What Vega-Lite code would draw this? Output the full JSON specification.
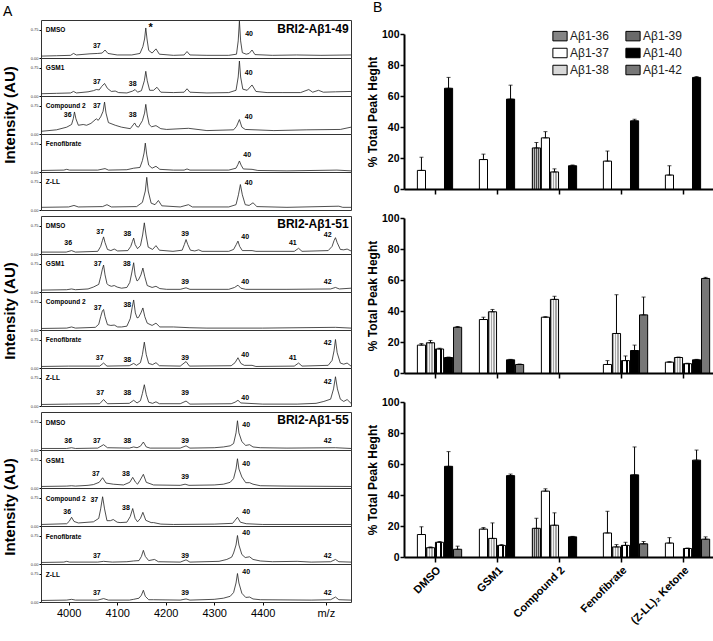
{
  "$schema": "https://vega.github.io/schema/vega-lite/v6.json",
  "padding": {"left": 2, "top": 0, "right": 1, "bottom": 1},
  "spacing": 12,
  "config": {
    "font": "Liberation Sans",
    "view": {"stroke": "#333", "strokeWidth": 1},
    "axis": {"grid": false, "labelColor": "black", "tickColor": "black", "domainColor": "black", "titleColor": "black", "labelOverlap": false},
    "title": {"color": "black"},
    "text": {"color": "black"}
  },
  "datasets": {
    "spec": [
      {"g":"49","c":"DMSO","mz":3943,"f":0.05},{"g":"49","c":"DMSO","mz":3975,"f":0.06},{"g":"49","c":"DMSO","mz":4004,"f":0.07},{"g":"49","c":"DMSO","mz":4010,"f":0.12},{"g":"49","c":"DMSO","mz":4016,"f":0.08},{"g":"49","c":"DMSO","mz":4044,"f":0.11},{"g":"49","c":"DMSO","mz":4060,"f":0.12},{"g":"49","c":"DMSO","mz":4069,"f":0.13},{"g":"49","c":"DMSO","mz":4075,"f":0.21},{"g":"49","c":"DMSO","mz":4081,"f":0.12},{"g":"49","c":"DMSO","mz":4100,"f":0.08},{"g":"49","c":"DMSO","mz":4130,"f":0.08},{"g":"49","c":"DMSO","mz":4147,"f":0.12},{"g":"49","c":"DMSO","mz":4153,"f":0.3},{"g":"49","c":"DMSO","mz":4156.5,"f":0.5},{"g":"49","c":"DMSO","mz":4159,"f":0.79},{"g":"49","c":"DMSO","mz":4161.5,"f":0.5},{"g":"49","c":"DMSO","mz":4165,"f":0.2},{"g":"49","c":"DMSO","mz":4172,"f":0.13},{"g":"49","c":"DMSO","mz":4180,"f":0.24},{"g":"49","c":"DMSO","mz":4187,"f":0.1},{"g":"49","c":"DMSO","mz":4216,"f":0.07},{"g":"49","c":"DMSO","mz":4238,"f":0.08},{"g":"49","c":"DMSO","mz":4244,"f":0.17},{"g":"49","c":"DMSO","mz":4250,"f":0.08},{"g":"49","c":"DMSO","mz":4285,"f":0.07},{"g":"49","c":"DMSO","mz":4330,"f":0.07},{"g":"49","c":"DMSO","mz":4346,"f":0.1},{"g":"49","c":"DMSO","mz":4349.5,"f":0.45},{"g":"49","c":"DMSO","mz":4352,"f":0.97},{"g":"49","c":"DMSO","mz":4354.5,"f":0.45},{"g":"49","c":"DMSO","mz":4358,"f":0.14},{"g":"49","c":"DMSO","mz":4366,"f":0.1},{"g":"49","c":"DMSO","mz":4372,"f":0.12},{"g":"49","c":"DMSO","mz":4378,"f":0.21},{"g":"49","c":"DMSO","mz":4384,"f":0.09},{"g":"49","c":"DMSO","mz":4420,"f":0.07},{"g":"49","c":"DMSO","mz":4470,"f":0.08},{"g":"49","c":"DMSO","mz":4520,"f":0.07},{"g":"49","c":"DMSO","mz":4582,"f":0.08},
      {"g":"49","c":"GSM1","mz":3943,"f":0.06},{"g":"49","c":"GSM1","mz":3975,"f":0.07},{"g":"49","c":"GSM1","mz":4004,"f":0.08},{"g":"49","c":"GSM1","mz":4010,"f":0.12},{"g":"49","c":"GSM1","mz":4016,"f":0.08},{"g":"49","c":"GSM1","mz":4040,"f":0.11},{"g":"49","c":"GSM1","mz":4051,"f":0.14},{"g":"49","c":"GSM1","mz":4057,"f":0.17},{"g":"49","c":"GSM1","mz":4063,"f":0.16},{"g":"49","c":"GSM1","mz":4068,"f":0.25},{"g":"49","c":"GSM1","mz":4074,"f":0.33},{"g":"49","c":"GSM1","mz":4080,"f":0.2},{"g":"49","c":"GSM1","mz":4088,"f":0.12},{"g":"49","c":"GSM1","mz":4096,"f":0.13},{"g":"49","c":"GSM1","mz":4103,"f":0.09},{"g":"49","c":"GSM1","mz":4120,"f":0.08},{"g":"49","c":"GSM1","mz":4132,"f":0.13},{"g":"49","c":"GSM1","mz":4137,"f":0.17},{"g":"49","c":"GSM1","mz":4142,"f":0.1},{"g":"49","c":"GSM1","mz":4150,"f":0.14},{"g":"49","c":"GSM1","mz":4156,"f":0.4},{"g":"49","c":"GSM1","mz":4159,"f":0.65},{"g":"49","c":"GSM1","mz":4162,"f":0.4},{"g":"49","c":"GSM1","mz":4167,"f":0.15},{"g":"49","c":"GSM1","mz":4175,"f":0.15},{"g":"49","c":"GSM1","mz":4182,"f":0.23},{"g":"49","c":"GSM1","mz":4190,"f":0.1},{"g":"49","c":"GSM1","mz":4216,"f":0.09},{"g":"49","c":"GSM1","mz":4238,"f":0.1},{"g":"49","c":"GSM1","mz":4244,"f":0.19},{"g":"49","c":"GSM1","mz":4250,"f":0.1},{"g":"49","c":"GSM1","mz":4285,"f":0.08},{"g":"49","c":"GSM1","mz":4330,"f":0.09},{"g":"49","c":"GSM1","mz":4345,"f":0.15},{"g":"49","c":"GSM1","mz":4349.5,"f":0.5},{"g":"49","c":"GSM1","mz":4352,"f":0.92},{"g":"49","c":"GSM1","mz":4354.5,"f":0.5},{"g":"49","c":"GSM1","mz":4359,"f":0.18},{"g":"49","c":"GSM1","mz":4368,"f":0.15},{"g":"49","c":"GSM1","mz":4378,"f":0.29},{"g":"49","c":"GSM1","mz":4386,"f":0.12},{"g":"49","c":"GSM1","mz":4409,"f":0.09},{"g":"49","c":"GSM1","mz":4440,"f":0.09},{"g":"49","c":"GSM1","mz":4478,"f":0.09},{"g":"49","c":"GSM1","mz":4495,"f":0.17},{"g":"49","c":"GSM1","mz":4503,"f":0.1},{"g":"49","c":"GSM1","mz":4515,"f":0.15},{"g":"49","c":"GSM1","mz":4525,"f":0.1},{"g":"49","c":"GSM1","mz":4550,"f":0.11},{"g":"49","c":"GSM1","mz":4582,"f":0.12},
      {"g":"49","c":"Compound 2","mz":3943,"f":0.07},{"g":"49","c":"Compound 2","mz":3975,"f":0.11},{"g":"49","c":"Compound 2","mz":3996,"f":0.18},{"g":"49","c":"Compound 2","mz":4006,"f":0.25},{"g":"49","c":"Compound 2","mz":4009.5,"f":0.4},{"g":"49","c":"Compound 2","mz":4012,"f":0.58},{"g":"49","c":"Compound 2","mz":4015,"f":0.4},{"g":"49","c":"Compound 2","mz":4020,"f":0.23},{"g":"49","c":"Compound 2","mz":4030,"f":0.25},{"g":"49","c":"Compound 2","mz":4037,"f":0.23},{"g":"49","c":"Compound 2","mz":4046,"f":0.28},{"g":"49","c":"Compound 2","mz":4057,"f":0.4},{"g":"49","c":"Compound 2","mz":4061,"f":0.36},{"g":"49","c":"Compound 2","mz":4066,"f":0.45},{"g":"49","c":"Compound 2","mz":4071,"f":0.6},{"g":"49","c":"Compound 2","mz":4074,"f":0.84},{"g":"49","c":"Compound 2","mz":4077,"f":0.55},{"g":"49","c":"Compound 2","mz":4082,"f":0.3},{"g":"49","c":"Compound 2","mz":4096,"f":0.23},{"g":"49","c":"Compound 2","mz":4109,"f":0.18},{"g":"49","c":"Compound 2","mz":4127,"f":0.14},{"g":"49","c":"Compound 2","mz":4133,"f":0.24},{"g":"49","c":"Compound 2","mz":4136,"f":0.29},{"g":"49","c":"Compound 2","mz":4140,"f":0.2},{"g":"49","c":"Compound 2","mz":4144,"f":0.18},{"g":"49","c":"Compound 2","mz":4152,"f":0.35},{"g":"49","c":"Compound 2","mz":4156.5,"f":0.55},{"g":"49","c":"Compound 2","mz":4159,"f":0.78},{"g":"49","c":"Compound 2","mz":4162,"f":0.5},{"g":"49","c":"Compound 2","mz":4166,"f":0.25},{"g":"49","c":"Compound 2","mz":4171,"f":0.19},{"g":"49","c":"Compound 2","mz":4180,"f":0.22},{"g":"49","c":"Compound 2","mz":4190,"f":0.14},{"g":"49","c":"Compound 2","mz":4202,"f":0.12},{"g":"49","c":"Compound 2","mz":4247,"f":0.15},{"g":"49","c":"Compound 2","mz":4285,"f":0.09},{"g":"49","c":"Compound 2","mz":4340,"f":0.11},{"g":"49","c":"Compound 2","mz":4346,"f":0.2},{"g":"49","c":"Compound 2","mz":4352,"f":0.38},{"g":"49","c":"Compound 2","mz":4357,"f":0.18},{"g":"49","c":"Compound 2","mz":4364,"f":0.12},{"g":"49","c":"Compound 2","mz":4423,"f":0.09},{"g":"49","c":"Compound 2","mz":4491,"f":0.11},{"g":"49","c":"Compound 2","mz":4560,"f":0.12},{"g":"49","c":"Compound 2","mz":4582,"f":0.18},
      {"g":"49","c":"Fenofibrate","mz":3943,"f":0.04},{"g":"49","c":"Fenofibrate","mz":3990,"f":0.05},{"g":"49","c":"Fenofibrate","mz":3996,"f":0.07},{"g":"49","c":"Fenofibrate","mz":4002,"f":0.05},{"g":"49","c":"Fenofibrate","mz":4060,"f":0.05},{"g":"49","c":"Fenofibrate","mz":4075,"f":0.09},{"g":"49","c":"Fenofibrate","mz":4082,"f":0.05},{"g":"49","c":"Fenofibrate","mz":4120,"f":0.06},{"g":"49","c":"Fenofibrate","mz":4134,"f":0.1},{"g":"49","c":"Fenofibrate","mz":4147,"f":0.12},{"g":"49","c":"Fenofibrate","mz":4152,"f":0.3},{"g":"49","c":"Fenofibrate","mz":4155.5,"f":0.5},{"g":"49","c":"Fenofibrate","mz":4158,"f":0.76},{"g":"49","c":"Fenofibrate","mz":4161,"f":0.45},{"g":"49","c":"Fenofibrate","mz":4165,"f":0.18},{"g":"49","c":"Fenofibrate","mz":4172,"f":0.1},{"g":"49","c":"Fenofibrate","mz":4180,"f":0.15},{"g":"49","c":"Fenofibrate","mz":4188,"f":0.07},{"g":"49","c":"Fenofibrate","mz":4216,"f":0.05},{"g":"49","c":"Fenofibrate","mz":4238,"f":0.05},{"g":"49","c":"Fenofibrate","mz":4244,"f":0.08},{"g":"49","c":"Fenofibrate","mz":4250,"f":0.05},{"g":"49","c":"Fenofibrate","mz":4330,"f":0.05},{"g":"49","c":"Fenofibrate","mz":4345,"f":0.1},{"g":"49","c":"Fenofibrate","mz":4349,"f":0.2},{"g":"49","c":"Fenofibrate","mz":4352,"f":0.29},{"g":"49","c":"Fenofibrate","mz":4355.5,"f":0.18},{"g":"49","c":"Fenofibrate","mz":4360,"f":0.08},{"g":"49","c":"Fenofibrate","mz":4378,"f":0.07},{"g":"49","c":"Fenofibrate","mz":4390,"f":0.04},{"g":"49","c":"Fenofibrate","mz":4450,"f":0.03},{"g":"49","c":"Fenofibrate","mz":4553,"f":0.05},{"g":"49","c":"Fenofibrate","mz":4582,"f":0.03},
      {"g":"49","c":"Z-LL","mz":3943,"f":0.07},{"g":"49","c":"Z-LL","mz":4000,"f":0.08},{"g":"49","c":"Z-LL","mz":4011,"f":0.12},{"g":"49","c":"Z-LL","mz":4020,"f":0.08},{"g":"49","c":"Z-LL","mz":4070,"f":0.09},{"g":"49","c":"Z-LL","mz":4079,"f":0.14},{"g":"49","c":"Z-LL","mz":4088,"f":0.08},{"g":"49","c":"Z-LL","mz":4140,"f":0.09},{"g":"49","c":"Z-LL","mz":4152,"f":0.2},{"g":"49","c":"Z-LL","mz":4158,"f":0.5},{"g":"49","c":"Z-LL","mz":4161,"f":0.86},{"g":"49","c":"Z-LL","mz":4164,"f":0.5},{"g":"49","c":"Z-LL","mz":4170,"f":0.18},{"g":"49","c":"Z-LL","mz":4178,"f":0.14},{"g":"49","c":"Z-LL","mz":4185,"f":0.25},{"g":"49","c":"Z-LL","mz":4192,"f":0.11},{"g":"49","c":"Z-LL","mz":4230,"f":0.08},{"g":"49","c":"Z-LL","mz":4247,"f":0.14},{"g":"49","c":"Z-LL","mz":4255,"f":0.08},{"g":"49","c":"Z-LL","mz":4330,"f":0.08},{"g":"49","c":"Z-LL","mz":4345,"f":0.14},{"g":"49","c":"Z-LL","mz":4350,"f":0.4},{"g":"49","c":"Z-LL","mz":4354,"f":0.67},{"g":"49","c":"Z-LL","mz":4358,"f":0.4},{"g":"49","c":"Z-LL","mz":4364,"f":0.14},{"g":"49","c":"Z-LL","mz":4372,"f":0.12},{"g":"49","c":"Z-LL","mz":4380,"f":0.19},{"g":"49","c":"Z-LL","mz":4388,"f":0.09},{"g":"49","c":"Z-LL","mz":4450,"f":0.07},{"g":"49","c":"Z-LL","mz":4557,"f":0.1},{"g":"49","c":"Z-LL","mz":4565,"f":0.07},{"g":"49","c":"Z-LL","mz":4582,"f":0.07},
      {"g":"49","c":"DMSO","mz":4058,"f":0.31,"t":"37"},{"g":"49","c":"DMSO","mz":4169,"f":0.8,"t":"*"},{"g":"49","c":"DMSO","mz":4372,"f":0.64,"t":"40"},
      {"g":"49","c":"GSM1","mz":4058,"f":0.37,"t":"37"},{"g":"49","c":"GSM1","mz":4132,"f":0.31,"t":"38"},{"g":"49","c":"GSM1","mz":4371,"f":0.61,"t":"40"},
      {"g":"49","c":"Compound 2","mz":3998,"f":0.51,"t":"36"},{"g":"49","c":"Compound 2","mz":4058,"f":0.73,"t":"37"},{"g":"49","c":"Compound 2","mz":4132,"f":0.51,"t":"38"},{"g":"49","c":"Compound 2","mz":4371,"f":0.44,"t":"40"},
      {"g":"49","c":"Fenofibrate","mz":4368,"f":0.44,"t":"40"},
      {"g":"49","c":"Z-LL","mz":4371,"f":0.71,"t":"40"},

      {"g":"51","c":"DMSO","mz":3943,"f":0.05},{"g":"51","c":"DMSO","mz":3995,"f":0.05},{"g":"51","c":"DMSO","mz":4006,"f":0.09},{"g":"51","c":"DMSO","mz":4014,"f":0.05},{"g":"51","c":"DMSO","mz":4060,"f":0.07},{"g":"51","c":"DMSO","mz":4066,"f":0.2},{"g":"51","c":"DMSO","mz":4069.5,"f":0.35},{"g":"51","c":"DMSO","mz":4072,"f":0.45},{"g":"51","c":"DMSO","mz":4075,"f":0.3},{"g":"51","c":"DMSO","mz":4080,"f":0.12},{"g":"51","c":"DMSO","mz":4087,"f":0.09},{"g":"51","c":"DMSO","mz":4094,"f":0.13},{"g":"51","c":"DMSO","mz":4101,"f":0.08},{"g":"51","c":"DMSO","mz":4122,"f":0.09},{"g":"51","c":"DMSO","mz":4128,"f":0.2},{"g":"51","c":"DMSO","mz":4131.5,"f":0.33},{"g":"51","c":"DMSO","mz":4134,"f":0.42},{"g":"51","c":"DMSO","mz":4137,"f":0.25},{"g":"51","c":"DMSO","mz":4142,"f":0.14},{"g":"51","c":"DMSO","mz":4148,"f":0.22},{"g":"51","c":"DMSO","mz":4152.5,"f":0.5},{"g":"51","c":"DMSO","mz":4156,"f":0.82},{"g":"51","c":"DMSO","mz":4159.5,"f":0.5},{"g":"51","c":"DMSO","mz":4164,"f":0.18},{"g":"51","c":"DMSO","mz":4173,"f":0.12},{"g":"51","c":"DMSO","mz":4180,"f":0.22},{"g":"51","c":"DMSO","mz":4187,"f":0.1},{"g":"51","c":"DMSO","mz":4215,"f":0.07},{"g":"51","c":"DMSO","mz":4234,"f":0.1},{"g":"51","c":"DMSO","mz":4238.5,"f":0.25},{"g":"51","c":"DMSO","mz":4242,"f":0.38},{"g":"51","c":"DMSO","mz":4245.5,"f":0.25},{"g":"51","c":"DMSO","mz":4251,"f":0.1},{"g":"51","c":"DMSO","mz":4260,"f":0.08},{"g":"51","c":"DMSO","mz":4268,"f":0.11},{"g":"51","c":"DMSO","mz":4275,"f":0.07},{"g":"51","c":"DMSO","mz":4330,"f":0.07},{"g":"51","c":"DMSO","mz":4340,"f":0.12},{"g":"51","c":"DMSO","mz":4345.5,"f":0.25},{"g":"51","c":"DMSO","mz":4349,"f":0.34},{"g":"51","c":"DMSO","mz":4352.5,"f":0.2},{"g":"51","c":"DMSO","mz":4358,"f":0.09},{"g":"51","c":"DMSO","mz":4378,"f":0.09},{"g":"51","c":"DMSO","mz":4386,"f":0.07},{"g":"51","c":"DMSO","mz":4465,"f":0.07},{"g":"51","c":"DMSO","mz":4474,"f":0.15},{"g":"51","c":"DMSO","mz":4481,"f":0.07},{"g":"51","c":"DMSO","mz":4535,"f":0.09},{"g":"51","c":"DMSO","mz":4543,"f":0.2},{"g":"51","c":"DMSO","mz":4547,"f":0.35},{"g":"51","c":"DMSO","mz":4550,"f":0.43},{"g":"51","c":"DMSO","mz":4553.5,"f":0.3},{"g":"51","c":"DMSO","mz":4560,"f":0.12},{"g":"51","c":"DMSO","mz":4567,"f":0.11},{"g":"51","c":"DMSO","mz":4574,"f":0.13},{"g":"51","c":"DMSO","mz":4582,"f":0.08},
      {"g":"51","c":"GSM1","mz":3943,"f":0.05},{"g":"51","c":"GSM1","mz":3996,"f":0.06},{"g":"51","c":"GSM1","mz":4006,"f":0.08},{"g":"51","c":"GSM1","mz":4014,"f":0.06},{"g":"51","c":"GSM1","mz":4040,"f":0.08},{"g":"51","c":"GSM1","mz":4051,"f":0.13},{"g":"51","c":"GSM1","mz":4062,"f":0.2},{"g":"51","c":"GSM1","mz":4066,"f":0.4},{"g":"51","c":"GSM1","mz":4069.5,"f":0.6},{"g":"51","c":"GSM1","mz":4072,"f":0.71},{"g":"51","c":"GSM1","mz":4075,"f":0.45},{"g":"51","c":"GSM1","mz":4079,"f":0.22},{"g":"51","c":"GSM1","mz":4082,"f":0.18},{"g":"51","c":"GSM1","mz":4088,"f":0.15},{"g":"51","c":"GSM1","mz":4094,"f":0.17},{"g":"51","c":"GSM1","mz":4100,"f":0.13},{"g":"51","c":"GSM1","mz":4109,"f":0.1},{"g":"51","c":"GSM1","mz":4120,"f":0.12},{"g":"51","c":"GSM1","mz":4126,"f":0.25},{"g":"51","c":"GSM1","mz":4130,"f":0.5},{"g":"51","c":"GSM1","mz":4134,"f":0.77},{"g":"51","c":"GSM1","mz":4137,"f":0.45},{"g":"51","c":"GSM1","mz":4141,"f":0.29},{"g":"51","c":"GSM1","mz":4144,"f":0.32},{"g":"51","c":"GSM1","mz":4149,"f":0.45},{"g":"51","c":"GSM1","mz":4153,"f":0.63},{"g":"51","c":"GSM1","mz":4157,"f":0.4},{"g":"51","c":"GSM1","mz":4162,"f":0.17},{"g":"51","c":"GSM1","mz":4172,"f":0.12},{"g":"51","c":"GSM1","mz":4180,"f":0.15},{"g":"51","c":"GSM1","mz":4188,"f":0.09},{"g":"51","c":"GSM1","mz":4202,"f":0.07},{"g":"51","c":"GSM1","mz":4230,"f":0.07},{"g":"51","c":"GSM1","mz":4242,"f":0.11},{"g":"51","c":"GSM1","mz":4250,"f":0.07},{"g":"51","c":"GSM1","mz":4330,"f":0.07},{"g":"51","c":"GSM1","mz":4342,"f":0.12},{"g":"51","c":"GSM1","mz":4349,"f":0.18},{"g":"51","c":"GSM1","mz":4355,"f":0.1},{"g":"51","c":"GSM1","mz":4365,"f":0.07},{"g":"51","c":"GSM1","mz":4450,"f":0.07},{"g":"51","c":"GSM1","mz":4540,"f":0.08},{"g":"51","c":"GSM1","mz":4550,"f":0.12},{"g":"51","c":"GSM1","mz":4558,"f":0.08},{"g":"51","c":"GSM1","mz":4582,"f":0.1},
      {"g":"51","c":"Compound 2","mz":3943,"f":0.04},{"g":"51","c":"Compound 2","mz":3996,"f":0.05},{"g":"51","c":"Compound 2","mz":4006,"f":0.08},{"g":"51","c":"Compound 2","mz":4014,"f":0.05},{"g":"51","c":"Compound 2","mz":4055,"f":0.07},{"g":"51","c":"Compound 2","mz":4062,"f":0.15},{"g":"51","c":"Compound 2","mz":4066,"f":0.35},{"g":"51","c":"Compound 2","mz":4069.5,"f":0.5},{"g":"51","c":"Compound 2","mz":4072,"f":0.54},{"g":"51","c":"Compound 2","mz":4075,"f":0.35},{"g":"51","c":"Compound 2","mz":4080,"f":0.14},{"g":"51","c":"Compound 2","mz":4087,"f":0.12},{"g":"51","c":"Compound 2","mz":4094,"f":0.13},{"g":"51","c":"Compound 2","mz":4101,"f":0.08},{"g":"51","c":"Compound 2","mz":4109,"f":0.08},{"g":"51","c":"Compound 2","mz":4120,"f":0.1},{"g":"51","c":"Compound 2","mz":4127,"f":0.3},{"g":"51","c":"Compound 2","mz":4131,"f":0.6},{"g":"51","c":"Compound 2","mz":4134,"f":0.79},{"g":"51","c":"Compound 2","mz":4137.5,"f":0.45},{"g":"51","c":"Compound 2","mz":4141,"f":0.32},{"g":"51","c":"Compound 2","mz":4144,"f":0.33},{"g":"51","c":"Compound 2","mz":4149,"f":0.45},{"g":"51","c":"Compound 2","mz":4153,"f":0.58},{"g":"51","c":"Compound 2","mz":4157,"f":0.35},{"g":"51","c":"Compound 2","mz":4162,"f":0.18},{"g":"51","c":"Compound 2","mz":4172,"f":0.12},{"g":"51","c":"Compound 2","mz":4180,"f":0.18},{"g":"51","c":"Compound 2","mz":4188,"f":0.08},{"g":"51","c":"Compound 2","mz":4216,"f":0.08},{"g":"51","c":"Compound 2","mz":4250,"f":0.06},{"g":"51","c":"Compound 2","mz":4285,"f":0.05},{"g":"51","c":"Compound 2","mz":4400,"f":0.05},{"g":"51","c":"Compound 2","mz":4550,"f":0.07},{"g":"51","c":"Compound 2","mz":4582,"f":0.05},
      {"g":"51","c":"Fenofibrate","mz":3943,"f":0.04},{"g":"51","c":"Fenofibrate","mz":4000,"f":0.05},{"g":"51","c":"Fenofibrate","mz":4064,"f":0.05},{"g":"51","c":"Fenofibrate","mz":4072,"f":0.13},{"g":"51","c":"Fenofibrate","mz":4079,"f":0.05},{"g":"51","c":"Fenofibrate","mz":4125,"f":0.06},{"g":"51","c":"Fenofibrate","mz":4134,"f":0.12},{"g":"51","c":"Fenofibrate","mz":4140,"f":0.07},{"g":"51","c":"Fenofibrate","mz":4148,"f":0.14},{"g":"51","c":"Fenofibrate","mz":4152,"f":0.35},{"g":"51","c":"Fenofibrate","mz":4156,"f":0.68},{"g":"51","c":"Fenofibrate","mz":4160,"f":0.35},{"g":"51","c":"Fenofibrate","mz":4165,"f":0.12},{"g":"51","c":"Fenofibrate","mz":4173,"f":0.09},{"g":"51","c":"Fenofibrate","mz":4180,"f":0.14},{"g":"51","c":"Fenofibrate","mz":4187,"f":0.06},{"g":"51","c":"Fenofibrate","mz":4230,"f":0.05},{"g":"51","c":"Fenofibrate","mz":4242,"f":0.17},{"g":"51","c":"Fenofibrate","mz":4249,"f":0.05},{"g":"51","c":"Fenofibrate","mz":4335,"f":0.06},{"g":"51","c":"Fenofibrate","mz":4343,"f":0.14},{"g":"51","c":"Fenofibrate","mz":4349,"f":0.27},{"g":"51","c":"Fenofibrate","mz":4355,"f":0.12},{"g":"51","c":"Fenofibrate","mz":4362,"f":0.07},{"g":"51","c":"Fenofibrate","mz":4378,"f":0.07},{"g":"51","c":"Fenofibrate","mz":4386,"f":0.04},{"g":"51","c":"Fenofibrate","mz":4465,"f":0.05},{"g":"51","c":"Fenofibrate","mz":4474,"f":0.13},{"g":"51","c":"Fenofibrate","mz":4481,"f":0.05},{"g":"51","c":"Fenofibrate","mz":4535,"f":0.07},{"g":"51","c":"Fenofibrate","mz":4543,"f":0.2},{"g":"51","c":"Fenofibrate","mz":4547,"f":0.45},{"g":"51","c":"Fenofibrate","mz":4550,"f":0.75},{"g":"51","c":"Fenofibrate","mz":4553.5,"f":0.4},{"g":"51","c":"Fenofibrate","mz":4560,"f":0.13},{"g":"51","c":"Fenofibrate","mz":4567,"f":0.1},{"g":"51","c":"Fenofibrate","mz":4574,"f":0.13},{"g":"51","c":"Fenofibrate","mz":4582,"f":0.05},
      {"g":"51","c":"Z-LL","mz":3943,"f":0.04},{"g":"51","c":"Z-LL","mz":4000,"f":0.05},{"g":"51","c":"Z-LL","mz":4064,"f":0.06},{"g":"51","c":"Z-LL","mz":4072,"f":0.17},{"g":"51","c":"Z-LL","mz":4080,"f":0.06},{"g":"51","c":"Z-LL","mz":4125,"f":0.07},{"g":"51","c":"Z-LL","mz":4134,"f":0.15},{"g":"51","c":"Z-LL","mz":4141,"f":0.08},{"g":"51","c":"Z-LL","mz":4148,"f":0.14},{"g":"51","c":"Z-LL","mz":4152,"f":0.33},{"g":"51","c":"Z-LL","mz":4156,"f":0.56},{"g":"51","c":"Z-LL","mz":4160,"f":0.3},{"g":"51","c":"Z-LL","mz":4165,"f":0.1},{"g":"51","c":"Z-LL","mz":4173,"f":0.07},{"g":"51","c":"Z-LL","mz":4180,"f":0.11},{"g":"51","c":"Z-LL","mz":4187,"f":0.06},{"g":"51","c":"Z-LL","mz":4230,"f":0.06},{"g":"51","c":"Z-LL","mz":4242,"f":0.13},{"g":"51","c":"Z-LL","mz":4250,"f":0.05},{"g":"51","c":"Z-LL","mz":4335,"f":0.06},{"g":"51","c":"Z-LL","mz":4343,"f":0.1},{"g":"51","c":"Z-LL","mz":4349,"f":0.15},{"g":"51","c":"Z-LL","mz":4355,"f":0.08},{"g":"51","c":"Z-LL","mz":4400,"f":0.05},{"g":"51","c":"Z-LL","mz":4471,"f":0.05},{"g":"51","c":"Z-LL","mz":4510,"f":0.07},{"g":"51","c":"Z-LL","mz":4526,"f":0.12},{"g":"51","c":"Z-LL","mz":4540,"f":0.18},{"g":"51","c":"Z-LL","mz":4546,"f":0.45},{"g":"51","c":"Z-LL","mz":4550,"f":0.77},{"g":"51","c":"Z-LL","mz":4554,"f":0.45},{"g":"51","c":"Z-LL","mz":4560,"f":0.18},{"g":"51","c":"Z-LL","mz":4567,"f":0.12},{"g":"51","c":"Z-LL","mz":4574,"f":0.17},{"g":"51","c":"Z-LL","mz":4582,"f":0.07},
      {"g":"51","c":"DMSO","mz":3999,"f":0.29,"t":"36"},{"g":"51","c":"DMSO","mz":4065,"f":0.58,"t":"37"},{"g":"51","c":"DMSO","mz":4121,"f":0.52,"t":"38"},{"g":"51","c":"DMSO","mz":4240,"f":0.52,"t":"39"},{"g":"51","c":"DMSO","mz":4364,"f":0.45,"t":"40"},{"g":"51","c":"DMSO","mz":4462,"f":0.29,"t":"41"},{"g":"51","c":"DMSO","mz":4534,"f":0.49,"t":"42"},
      {"g":"51","c":"GSM1","mz":4060,"f":0.73,"t":"37"},{"g":"51","c":"GSM1","mz":4120,"f":0.73,"t":"38"},{"g":"51","c":"GSM1","mz":4240,"f":0.27,"t":"39"},{"g":"51","c":"GSM1","mz":4364,"f":0.27,"t":"40"},{"g":"51","c":"GSM1","mz":4534,"f":0.27,"t":"42"},
      {"g":"51","c":"Compound 2","mz":4060,"f":0.58,"t":"37"},{"g":"51","c":"Compound 2","mz":4121,"f":0.65,"t":"38"},
      {"g":"51","c":"Fenofibrate","mz":4064,"f":0.27,"t":"37"},{"g":"51","c":"Fenofibrate","mz":4121,"f":0.21,"t":"38"},{"g":"51","c":"Fenofibrate","mz":4240,"f":0.27,"t":"39"},{"g":"51","c":"Fenofibrate","mz":4364,"f":0.33,"t":"40"},{"g":"51","c":"Fenofibrate","mz":4462,"f":0.27,"t":"41"},{"g":"51","c":"Fenofibrate","mz":4534,"f":0.67,"t":"42"},
      {"g":"51","c":"Z-LL","mz":4065,"f":0.33,"t":"37"},{"g":"51","c":"Z-LL","mz":4121,"f":0.33,"t":"38"},{"g":"51","c":"Z-LL","mz":4240,"f":0.33,"t":"39"},{"g":"51","c":"Z-LL","mz":4364,"f":0.21,"t":"40"},{"g":"51","c":"Z-LL","mz":4534,"f":0.63,"t":"42"},

      {"g":"55","c":"DMSO","mz":3943,"f":0.04},{"g":"55","c":"DMSO","mz":3996,"f":0.04},{"g":"55","c":"DMSO","mz":4006,"f":0.06},{"g":"55","c":"DMSO","mz":4014,"f":0.04},{"g":"55","c":"DMSO","mz":4060,"f":0.05},{"g":"55","c":"DMSO","mz":4072,"f":0.14},{"g":"55","c":"DMSO","mz":4080,"f":0.06},{"g":"55","c":"DMSO","mz":4125,"f":0.05},{"g":"55","c":"DMSO","mz":4134,"f":0.08},{"g":"55","c":"DMSO","mz":4141,"f":0.06},{"g":"55","c":"DMSO","mz":4148,"f":0.1},{"g":"55","c":"DMSO","mz":4154,"f":0.21},{"g":"55","c":"DMSO","mz":4160,"f":0.08},{"g":"55","c":"DMSO","mz":4168,"f":0.05},{"g":"55","c":"DMSO","mz":4230,"f":0.05},{"g":"55","c":"DMSO","mz":4242,"f":0.11},{"g":"55","c":"DMSO","mz":4250,"f":0.05},{"g":"55","c":"DMSO","mz":4300,"f":0.06},{"g":"55","c":"DMSO","mz":4319,"f":0.08},{"g":"55","c":"DMSO","mz":4333,"f":0.11},{"g":"55","c":"DMSO","mz":4340,"f":0.17},{"g":"55","c":"DMSO","mz":4345,"f":0.45},{"g":"55","c":"DMSO","mz":4348,"f":0.77},{"g":"55","c":"DMSO","mz":4351,"f":0.45},{"g":"55","c":"DMSO","mz":4357,"f":0.22},{"g":"55","c":"DMSO","mz":4365,"f":0.12},{"g":"55","c":"DMSO","mz":4373,"f":0.14},{"g":"55","c":"DMSO","mz":4380,"f":0.08},{"g":"55","c":"DMSO","mz":4395,"f":0.06},{"g":"55","c":"DMSO","mz":4450,"f":0.05},{"g":"55","c":"DMSO","mz":4550,"f":0.06},{"g":"55","c":"DMSO","mz":4582,"f":0.04},
      {"g":"55","c":"GSM1","mz":3943,"f":0.04},{"g":"55","c":"GSM1","mz":3996,"f":0.05},{"g":"55","c":"GSM1","mz":4006,"f":0.06},{"g":"55","c":"GSM1","mz":4014,"f":0.05},{"g":"55","c":"GSM1","mz":4040,"f":0.07},{"g":"55","c":"GSM1","mz":4051,"f":0.09},{"g":"55","c":"GSM1","mz":4063,"f":0.15},{"g":"55","c":"GSM1","mz":4070,"f":0.27},{"g":"55","c":"GSM1","mz":4077,"f":0.13},{"g":"55","c":"GSM1","mz":4092,"f":0.1},{"g":"55","c":"GSM1","mz":4113,"f":0.08},{"g":"55","c":"GSM1","mz":4126,"f":0.15},{"g":"55","c":"GSM1","mz":4132,"f":0.28},{"g":"55","c":"GSM1","mz":4138,"f":0.15},{"g":"55","c":"GSM1","mz":4142,"f":0.1},{"g":"55","c":"GSM1","mz":4147,"f":0.2},{"g":"55","c":"GSM1","mz":4154,"f":0.36},{"g":"55","c":"GSM1","mz":4160,"f":0.15},{"g":"55","c":"GSM1","mz":4175,"f":0.08},{"g":"55","c":"GSM1","mz":4230,"f":0.07},{"g":"55","c":"GSM1","mz":4240,"f":0.1},{"g":"55","c":"GSM1","mz":4248,"f":0.07},{"g":"55","c":"GSM1","mz":4300,"f":0.08},{"g":"55","c":"GSM1","mz":4319,"f":0.1},{"g":"55","c":"GSM1","mz":4333,"f":0.15},{"g":"55","c":"GSM1","mz":4340,"f":0.25},{"g":"55","c":"GSM1","mz":4345,"f":0.5},{"g":"55","c":"GSM1","mz":4348,"f":0.77},{"g":"55","c":"GSM1","mz":4351,"f":0.5},{"g":"55","c":"GSM1","mz":4357,"f":0.29},{"g":"55","c":"GSM1","mz":4365,"f":0.14},{"g":"55","c":"GSM1","mz":4373,"f":0.14},{"g":"55","c":"GSM1","mz":4380,"f":0.1},{"g":"55","c":"GSM1","mz":4395,"f":0.06},{"g":"55","c":"GSM1","mz":4450,"f":0.05},{"g":"55","c":"GSM1","mz":4582,"f":0.04},
      {"g":"55","c":"Compound 2","mz":3943,"f":0.04},{"g":"55","c":"Compound 2","mz":3996,"f":0.06},{"g":"55","c":"Compound 2","mz":4001,"f":0.12},{"g":"55","c":"Compound 2","mz":4006,"f":0.23},{"g":"55","c":"Compound 2","mz":4011,"f":0.12},{"g":"55","c":"Compound 2","mz":4020,"f":0.08},{"g":"55","c":"Compound 2","mz":4051,"f":0.11},{"g":"55","c":"Compound 2","mz":4062,"f":0.2},{"g":"55","c":"Compound 2","mz":4066,"f":0.45},{"g":"55","c":"Compound 2","mz":4070,"f":0.77},{"g":"55","c":"Compound 2","mz":4074,"f":0.45},{"g":"55","c":"Compound 2","mz":4079,"f":0.14},{"g":"55","c":"Compound 2","mz":4086,"f":0.14},{"g":"55","c":"Compound 2","mz":4092,"f":0.17},{"g":"55","c":"Compound 2","mz":4100,"f":0.1},{"g":"55","c":"Compound 2","mz":4106,"f":0.09},{"g":"55","c":"Compound 2","mz":4120,"f":0.1},{"g":"55","c":"Compound 2","mz":4127,"f":0.25},{"g":"55","c":"Compound 2","mz":4132,"f":0.46},{"g":"55","c":"Compound 2","mz":4137,"f":0.2},{"g":"55","c":"Compound 2","mz":4142,"f":0.11},{"g":"55","c":"Compound 2","mz":4148,"f":0.2},{"g":"55","c":"Compound 2","mz":4153,"f":0.36},{"g":"55","c":"Compound 2","mz":4159,"f":0.15},{"g":"55","c":"Compound 2","mz":4170,"f":0.09},{"g":"55","c":"Compound 2","mz":4175,"f":0.09},{"g":"55","c":"Compound 2","mz":4190,"f":0.05},{"g":"55","c":"Compound 2","mz":4216,"f":0.04},{"g":"55","c":"Compound 2","mz":4300,"f":0.05},{"g":"55","c":"Compound 2","mz":4338,"f":0.07},{"g":"55","c":"Compound 2","mz":4343,"f":0.15},{"g":"55","c":"Compound 2","mz":4348,"f":0.23},{"g":"55","c":"Compound 2","mz":4354,"f":0.1},{"g":"55","c":"Compound 2","mz":4366,"f":0.06},{"g":"55","c":"Compound 2","mz":4400,"f":0.04},{"g":"55","c":"Compound 2","mz":4582,"f":0.04},
      {"g":"55","c":"Fenofibrate","mz":3943,"f":0.04},{"g":"55","c":"Fenofibrate","mz":3990,"f":0.05},{"g":"55","c":"Fenofibrate","mz":3996,"f":0.07},{"g":"55","c":"Fenofibrate","mz":4002,"f":0.05},{"g":"55","c":"Fenofibrate","mz":4060,"f":0.05},{"g":"55","c":"Fenofibrate","mz":4072,"f":0.07},{"g":"55","c":"Fenofibrate","mz":4090,"f":0.05},{"g":"55","c":"Fenofibrate","mz":4120,"f":0.06},{"g":"55","c":"Fenofibrate","mz":4134,"f":0.08},{"g":"55","c":"Fenofibrate","mz":4145,"f":0.09},{"g":"55","c":"Fenofibrate","mz":4150,"f":0.2},{"g":"55","c":"Fenofibrate","mz":4154,"f":0.36},{"g":"55","c":"Fenofibrate","mz":4158,"f":0.2},{"g":"55","c":"Fenofibrate","mz":4165,"f":0.09},{"g":"55","c":"Fenofibrate","mz":4177,"f":0.12},{"g":"55","c":"Fenofibrate","mz":4185,"f":0.06},{"g":"55","c":"Fenofibrate","mz":4230,"f":0.05},{"g":"55","c":"Fenofibrate","mz":4242,"f":0.11},{"g":"55","c":"Fenofibrate","mz":4250,"f":0.05},{"g":"55","c":"Fenofibrate","mz":4310,"f":0.07},{"g":"55","c":"Fenofibrate","mz":4326,"f":0.12},{"g":"55","c":"Fenofibrate","mz":4336,"f":0.18},{"g":"55","c":"Fenofibrate","mz":4340,"f":0.29},{"g":"55","c":"Fenofibrate","mz":4345,"f":0.5},{"g":"55","c":"Fenofibrate","mz":4348,"f":0.75},{"g":"55","c":"Fenofibrate","mz":4351,"f":0.5},{"g":"55","c":"Fenofibrate","mz":4357,"f":0.25},{"g":"55","c":"Fenofibrate","mz":4364,"f":0.17},{"g":"55","c":"Fenofibrate","mz":4373,"f":0.19},{"g":"55","c":"Fenofibrate","mz":4380,"f":0.12},{"g":"55","c":"Fenofibrate","mz":4395,"f":0.08},{"g":"55","c":"Fenofibrate","mz":4420,"f":0.06},{"g":"55","c":"Fenofibrate","mz":4471,"f":0.07},{"g":"55","c":"Fenofibrate","mz":4500,"f":0.05},{"g":"55","c":"Fenofibrate","mz":4540,"f":0.06},{"g":"55","c":"Fenofibrate","mz":4550,"f":0.12},{"g":"55","c":"Fenofibrate","mz":4557,"f":0.06},{"g":"55","c":"Fenofibrate","mz":4582,"f":0.05},
      {"g":"55","c":"Z-LL","mz":3943,"f":0.04},{"g":"55","c":"Z-LL","mz":3996,"f":0.05},{"g":"55","c":"Z-LL","mz":4006,"f":0.07},{"g":"55","c":"Z-LL","mz":4014,"f":0.05},{"g":"55","c":"Z-LL","mz":4060,"f":0.05},{"g":"55","c":"Z-LL","mz":4072,"f":0.09},{"g":"55","c":"Z-LL","mz":4082,"f":0.05},{"g":"55","c":"Z-LL","mz":4125,"f":0.05},{"g":"55","c":"Z-LL","mz":4134,"f":0.07},{"g":"55","c":"Z-LL","mz":4145,"f":0.1},{"g":"55","c":"Z-LL","mz":4150,"f":0.18},{"g":"55","c":"Z-LL","mz":4154,"f":0.31},{"g":"55","c":"Z-LL","mz":4158,"f":0.15},{"g":"55","c":"Z-LL","mz":4165,"f":0.06},{"g":"55","c":"Z-LL","mz":4175,"f":0.06},{"g":"55","c":"Z-LL","mz":4230,"f":0.05},{"g":"55","c":"Z-LL","mz":4242,"f":0.08},{"g":"55","c":"Z-LL","mz":4250,"f":0.05},{"g":"55","c":"Z-LL","mz":4300,"f":0.07},{"g":"55","c":"Z-LL","mz":4319,"f":0.1},{"g":"55","c":"Z-LL","mz":4333,"f":0.15},{"g":"55","c":"Z-LL","mz":4340,"f":0.25},{"g":"55","c":"Z-LL","mz":4345,"f":0.5},{"g":"55","c":"Z-LL","mz":4348,"f":0.75},{"g":"55","c":"Z-LL","mz":4351,"f":0.5},{"g":"55","c":"Z-LL","mz":4357,"f":0.23},{"g":"55","c":"Z-LL","mz":4365,"f":0.12},{"g":"55","c":"Z-LL","mz":4373,"f":0.13},{"g":"55","c":"Z-LL","mz":4380,"f":0.08},{"g":"55","c":"Z-LL","mz":4395,"f":0.06},{"g":"55","c":"Z-LL","mz":4500,"f":0.05},{"g":"55","c":"Z-LL","mz":4540,"f":0.06},{"g":"55","c":"Z-LL","mz":4550,"f":0.13},{"g":"55","c":"Z-LL","mz":4557,"f":0.06},{"g":"55","c":"Z-LL","mz":4582,"f":0.05},
      {"g":"55","c":"DMSO","mz":3999,"f":0.25,"t":"36"},{"g":"55","c":"DMSO","mz":4058,"f":0.25,"t":"37"},{"g":"55","c":"DMSO","mz":4121,"f":0.25,"t":"38"},{"g":"55","c":"DMSO","mz":4240,"f":0.25,"t":"39"},{"g":"55","c":"DMSO","mz":4366,"f":0.67,"t":"40"},{"g":"55","c":"DMSO","mz":4534,"f":0.25,"t":"42"},
      {"g":"55","c":"GSM1","mz":4056,"f":0.38,"t":"37"},{"g":"55","c":"GSM1","mz":4118,"f":0.38,"t":"38"},{"g":"55","c":"GSM1","mz":4240,"f":0.29,"t":"39"},{"g":"55","c":"GSM1","mz":4366,"f":0.64,"t":"40"},
      {"g":"55","c":"Compound 2","mz":3997,"f":0.36,"t":"36"},{"g":"55","c":"Compound 2","mz":4053,"f":0.69,"t":"37"},{"g":"55","c":"Compound 2","mz":4118,"f":0.48,"t":"38"},{"g":"55","c":"Compound 2","mz":4366,"f":0.38,"t":"40"},
      {"g":"55","c":"Fenofibrate","mz":4058,"f":0.21,"t":"37"},{"g":"55","c":"Fenofibrate","mz":4240,"f":0.21,"t":"39"},{"g":"55","c":"Fenofibrate","mz":4366,"f":0.81,"t":"40"},{"g":"55","c":"Fenofibrate","mz":4534,"f":0.21,"t":"42"},
      {"g":"55","c":"Z-LL","mz":4058,"f":0.23,"t":"37"},{"g":"55","c":"Z-LL","mz":4240,"f":0.23,"t":"39"},{"g":"55","c":"Z-LL","mz":4366,"f":0.79,"t":"40"},{"g":"55","c":"Z-LL","mz":4534,"f":0.23,"t":"42"}
    ],
    "bars": [
      {"p":"49","t":"DMSO","a":"Aβ1-37","v":12,"hi":20.5},{"p":"49","t":"DMSO","a":"Aβ1-40","v":65,"hi":72},
      {"p":"49","t":"GSM1","a":"Aβ1-37","v":19,"hi":22.5},{"p":"49","t":"GSM1","a":"Aβ1-40","v":58,"hi":67},
      {"p":"49","t":"Compound 2","a":"Aβ1-36","v":26.5,"hi":30},{"p":"49","t":"Compound 2","a":"Aβ1-37","v":33,"hi":37},{"p":"49","t":"Compound 2","a":"Aβ1-38","v":11,"hi":13},{"p":"49","t":"Compound 2","a":"Aβ1-40","v":15,"hi":15.5},
      {"p":"49","t":"Fenofibrate","a":"Aβ1-37","v":18,"hi":24.5},{"p":"49","t":"Fenofibrate","a":"Aβ1-40","v":44,"hi":45},
      {"p":"49","t":"(Z-LL)₂ Ketone","a":"Aβ1-37","v":9,"hi":15},{"p":"49","t":"(Z-LL)₂ Ketone","a":"Aβ1-40","v":72,"hi":72.5},
      {"p":"51","t":"DMSO","a":"Aβ1-37","v":18,"hi":19},{"p":"51","t":"DMSO","a":"Aβ1-38","v":19.5,"hi":21},{"p":"51","t":"DMSO","a":"Aβ1-39","v":15.5,"hi":16},{"p":"51","t":"DMSO","a":"Aβ1-40","v":10,"hi":10.3},{"p":"51","t":"DMSO","a":"Aβ1-42","v":29.5,"hi":30},
      {"p":"51","t":"GSM1","a":"Aβ1-37","v":34.5,"hi":36},{"p":"51","t":"GSM1","a":"Aβ1-38","v":39.5,"hi":41},{"p":"51","t":"GSM1","a":"Aβ1-40","v":8.5,"hi":8.8},{"p":"51","t":"GSM1","a":"Aβ1-42","v":5.5,"hi":5.8},
      {"p":"51","t":"Compound 2","a":"Aβ1-37","v":36,"hi":36.3},{"p":"51","t":"Compound 2","a":"Aβ1-38","v":47.5,"hi":49.5},
      {"p":"51","t":"Fenofibrate","a":"Aβ1-37","v":5.5,"hi":8},{"p":"51","t":"Fenofibrate","a":"Aβ1-38","v":25.5,"hi":50.5},{"p":"51","t":"Fenofibrate","a":"Aβ1-39","v":8,"hi":11},{"p":"51","t":"Fenofibrate","a":"Aβ1-40","v":14.5,"hi":18},{"p":"51","t":"Fenofibrate","a":"Aβ1-42","v":37.5,"hi":49},
      {"p":"51","t":"(Z-LL)₂ Ketone","a":"Aβ1-37","v":7,"hi":7.3},{"p":"51","t":"(Z-LL)₂ Ketone","a":"Aβ1-38","v":10,"hi":10.3},{"p":"51","t":"(Z-LL)₂ Ketone","a":"Aβ1-39","v":6,"hi":6.3},{"p":"51","t":"(Z-LL)₂ Ketone","a":"Aβ1-40","v":8.5,"hi":8.8},{"p":"51","t":"(Z-LL)₂ Ketone","a":"Aβ1-42","v":61,"hi":61.7},
      {"p":"55","t":"DMSO","a":"Aβ1-37","v":14.5,"hi":19.5},{"p":"55","t":"DMSO","a":"Aβ1-38","v":6,"hi":6.5},{"p":"55","t":"DMSO","a":"Aβ1-39","v":9.5,"hi":10},{"p":"55","t":"DMSO","a":"Aβ1-40","v":58.5,"hi":68},{"p":"55","t":"DMSO","a":"Aβ1-42","v":5,"hi":7},
      {"p":"55","t":"GSM1","a":"Aβ1-37","v":18,"hi":19},{"p":"55","t":"GSM1","a":"Aβ1-38","v":12,"hi":22},{"p":"55","t":"GSM1","a":"Aβ1-39","v":7.5,"hi":8},{"p":"55","t":"GSM1","a":"Aβ1-40","v":52.5,"hi":53.5},
      {"p":"55","t":"Compound 2","a":"Aβ1-36","v":18.5,"hi":25},{"p":"55","t":"Compound 2","a":"Aβ1-37","v":42.5,"hi":44},{"p":"55","t":"Compound 2","a":"Aβ1-38","v":20.5,"hi":28.5},{"p":"55","t":"Compound 2","a":"Aβ1-40","v":13,"hi":13.3},
      {"p":"55","t":"Fenofibrate","a":"Aβ1-37","v":15.5,"hi":29.5},{"p":"55","t":"Fenofibrate","a":"Aβ1-38","v":6.5,"hi":8},{"p":"55","t":"Fenofibrate","a":"Aβ1-39","v":7.5,"hi":9.5},{"p":"55","t":"Fenofibrate","a":"Aβ1-40","v":53,"hi":71},{"p":"55","t":"Fenofibrate","a":"Aβ1-42","v":8.5,"hi":10},
      {"p":"55","t":"(Z-LL)₂ Ketone","a":"Aβ1-37","v":9,"hi":12.5},{"p":"55","t":"(Z-LL)₂ Ketone","a":"Aβ1-39","v":5.5,"hi":5.8},{"p":"55","t":"(Z-LL)₂ Ketone","a":"Aβ1-40","v":62.5,"hi":69},{"p":"55","t":"(Z-LL)₂ Ketone","a":"Aβ1-42","v":11.5,"hi":13}
    ]
  },
  "hconcat": [
    {
      "data": {"name": "spec"},
      "spacing": 3,
      "vconcat": [
        {
          "title": {"text": "A", "anchor": "start", "fontSize": 14, "fontWeight": "normal", "offset": 0},
          "transform": [{"filter": "datum.g == '49'"}],
          "bounds": "flush",
          "facet": {"row": {"field": "c", "type": "nominal", "sort": ["DMSO", "GSM1", "Compound 2", "Fenofibrate", "Z-LL"], "title": "Intensity (AU)", "header": {"labels": false, "labelPadding": 0, "titleFontSize": 15, "titleFontWeight": "bold", "titlePadding": 2}}},
          "spacing": 0,
          "spec": {
            "width": 310, "height": 38,
            "layer": [
              {"transform": [{"filter": "!datum.t"}], "mark": {"type": "line", "color": "#222", "strokeWidth": 0.8},
               "encoding": {
                 "x": {"field": "mz", "type": "quantitative", "scale": {"domain": [3943, 4582], "nice": false, "zero": false}, "axis": null},
                 "y": {"field": "f", "type": "quantitative", "scale": {"domain": [0, 1], "nice": false}, "axis": {"values": [0, 0.25, 0.5, 0.75], "format": ".2f", "labelFontSize": 4, "tickSize": 2, "labelPadding": 1, "domain": false, "title": null, "labelColor": "#333"}}}},
              {"transform": [{"filter": "datum.t"}], "mark": {"type": "text", "fontWeight": "bold", "color": "black"},
               "encoding": {"x": {"field": "mz", "type": "quantitative", "title": null}, "y": {"field": "f", "type": "quantitative", "title": null}, "text": {"field": "t"}, "size": {"condition": {"test": "datum.t === '*'", "value": 11}, "value": 7}}},
              {"transform": [{"aggregate": [{"op": "count", "as": "n"}], "groupby": ["c"]}], "mark": {"type": "text", "align": "left", "fontSize": 6.5, "fontWeight": "bold", "color": "black"},
               "encoding": {"x": {"datum": 3953}, "y": {"datum": 0.73}, "text": {"field": "c"}}},
              {"transform": [{"filter": "datum.c == 'DMSO'"}, {"aggregate": [{"op": "count", "as": "n"}], "groupby": ["c"]}], "mark": {"type": "text", "align": "right", "fontSize": 12, "fontWeight": "bold", "color": "black"},
               "encoding": {"x": {"datum": 4577}, "y": {"datum": 0.76}, "text": {"value": "BRI2-Aβ1-49"}}}
            ]
          }
        },
        {
          "transform": [{"filter": "datum.g == '51'"}],
          "bounds": "flush",
          "facet": {"row": {"field": "c", "type": "nominal", "sort": ["DMSO", "GSM1", "Compound 2", "Fenofibrate", "Z-LL"], "title": "Intensity (AU)", "header": {"labels": false, "labelPadding": 0, "titleFontSize": 15, "titleFontWeight": "bold", "titlePadding": 2}}},
          "spacing": 0,
          "spec": {
            "width": 310, "height": 38,
            "layer": [
              {"transform": [{"filter": "!datum.t"}], "mark": {"type": "line", "color": "#222", "strokeWidth": 0.8},
               "encoding": {
                 "x": {"field": "mz", "type": "quantitative", "scale": {"domain": [3943, 4582], "nice": false, "zero": false}, "axis": null},
                 "y": {"field": "f", "type": "quantitative", "scale": {"domain": [0, 1], "nice": false}, "axis": {"values": [0, 0.25, 0.5, 0.75], "format": ".2f", "labelFontSize": 4, "tickSize": 2, "labelPadding": 1, "domain": false, "title": null, "labelColor": "#333"}}}},
              {"transform": [{"filter": "datum.t"}], "mark": {"type": "text", "fontWeight": "bold", "color": "black", "fontSize": 7},
               "encoding": {"x": {"field": "mz", "type": "quantitative", "title": null}, "y": {"field": "f", "type": "quantitative", "title": null}, "text": {"field": "t"}}},
              {"transform": [{"aggregate": [{"op": "count", "as": "n"}], "groupby": ["c"]}], "mark": {"type": "text", "align": "left", "fontSize": 6.5, "fontWeight": "bold", "color": "black"},
               "encoding": {"x": {"datum": 3953}, "y": {"datum": 0.75}, "text": {"field": "c"}}},
              {"transform": [{"filter": "datum.c == 'DMSO'"}, {"aggregate": [{"op": "count", "as": "n"}], "groupby": ["c"]}], "mark": {"type": "text", "align": "right", "fontSize": 12, "fontWeight": "bold", "color": "black"},
               "encoding": {"x": {"datum": 4577}, "y": {"datum": 0.8}, "text": {"value": "BRI2-Aβ1-51"}}}
            ]
          }
        },
        {
          "transform": [{"filter": "datum.g == '55'"}],
          "bounds": "flush",
          "facet": {"row": {"field": "c", "type": "nominal", "sort": ["DMSO", "GSM1", "Compound 2", "Fenofibrate", "Z-LL"], "title": "Intensity (AU)", "header": {"labels": false, "labelPadding": 0, "titleFontSize": 15, "titleFontWeight": "bold", "titlePadding": 2}}},
          "spacing": 0,
          "spec": {
            "width": 310, "height": 38,
            "layer": [
              {"transform": [{"filter": "!datum.t"}], "mark": {"type": "line", "color": "#222", "strokeWidth": 0.8},
               "encoding": {
                 "x": {"field": "mz", "type": "quantitative", "scale": {"domain": [3943, 4582], "nice": false, "zero": false}, "axis": {"values": [4000, 4100, 4200, 4300, 4400, 4530], "format": "d", "labelExpr": "datum.value > 4500 ? 'm/z' : datum.label", "labelFontSize": 11, "tickSize": 3, "labelPadding": 2, "domain": false, "title": null}},
                 "y": {"field": "f", "type": "quantitative", "scale": {"domain": [0, 1], "nice": false}, "axis": {"values": [0, 0.25, 0.5, 0.75], "format": ".2f", "labelFontSize": 4, "tickSize": 2, "labelPadding": 1, "domain": false, "title": null, "labelColor": "#333"}}}},
              {"transform": [{"filter": "datum.t"}], "mark": {"type": "text", "fontWeight": "bold", "color": "black", "fontSize": 7},
               "encoding": {"x": {"field": "mz", "type": "quantitative", "title": null}, "y": {"field": "f", "type": "quantitative", "title": null}, "text": {"field": "t"}}},
              {"transform": [{"aggregate": [{"op": "count", "as": "n"}], "groupby": ["c"]}], "mark": {"type": "text", "align": "left", "fontSize": 6.5, "fontWeight": "bold", "color": "black"},
               "encoding": {"x": {"datum": 3953}, "y": {"datum": 0.7}, "text": {"field": "c"}}},
              {"transform": [{"filter": "datum.c == 'DMSO'"}, {"aggregate": [{"op": "count", "as": "n"}], "groupby": ["c"]}], "mark": {"type": "text", "align": "right", "fontSize": 12, "fontWeight": "bold", "color": "black"},
               "encoding": {"x": {"datum": 4577}, "y": {"datum": 0.8}, "text": {"value": "BRI2-Aβ1-55"}}}
            ]
          }
        }
      ]
    },
    {
      "data": {"name": "bars"},
      "spacing": 3,
      "vconcat": [
        {
          "width": 310, "height": 1,
          "view": {"stroke": null},
          "title": {"text": "B", "anchor": "start", "fontSize": 14, "fontWeight": "normal", "offset": 0, "dx": -31},
          "transform": [{"aggregate": [{"op": "count", "as": "n"}]}],
          "mark": {"type": "text", "text": ""},
          "encoding": {}
        },
        {
          "spacing": 18,
          "resolve": {"legend": {"color": "independent"}},
          "vconcat": [
            {
              "width": 310, "height": 155,
              "view": {"stroke": null},
              "transform": [{"filter": "datum.p == '49'"}],
              "encoding": {
                "x": {"field": "t", "type": "nominal", "sort": ["DMSO", "GSM1", "Compound 2", "Fenofibrate", "(Z-LL)₂ Ketone"], "scale": {"paddingInner": 0.14, "paddingOuter": 0.07}, "axis": {"labels": false, "title": null, "tickSize": 5, "tickWidth": 1.5, "domainWidth": 2}},
                "xOffset": {"field": "a", "type": "nominal", "scale": {"domain": ["Aβ1-36", "Aβ1-37", "Aβ1-38", "Aβ1-39", "Aβ1-40", "Aβ1-42"], "paddingInner": 0.1}},
                "y": {"field": "v", "type": "quantitative", "scale": {"domain": [0, 100]}, "axis": {"values": [0, 20, 40, 60, 80, 100], "labelFontSize": 10.5, "labelFontWeight": "bold", "labelPadding": 1, "tickSize": 4, "tickWidth": 1.5, "domainWidth": 2, "title": "% Total Peak Heght", "titleFontSize": 12, "titleFontWeight": "bold", "titlePadding": 2}}
              },
              "layer": [
                {"mark": {"type": "bar", "stroke": "black", "strokeWidth": 1},
                 "encoding": {
                   "color": {
                     "condition": [
                       {"test": "datum.a === 'Aβ1-36'", "value": {"gradient": "linear", "x1": 0, "y1": 0, "x2": 1, "y2": 0, "stops": [{"offset": 0, "color": "#444"}, {"offset": 0.125, "color": "#444"}, {"offset": 0.125, "color": "#bbb"}, {"offset": 0.25, "color": "#bbb"}, {"offset": 0.25, "color": "#444"}, {"offset": 0.375, "color": "#444"}, {"offset": 0.375, "color": "#bbb"}, {"offset": 0.5, "color": "#bbb"}, {"offset": 0.5, "color": "#444"}, {"offset": 0.625, "color": "#444"}, {"offset": 0.625, "color": "#bbb"}, {"offset": 0.75, "color": "#bbb"}, {"offset": 0.75, "color": "#444"}, {"offset": 0.875, "color": "#444"}, {"offset": 0.875, "color": "#bbb"}, {"offset": 1, "color": "#bbb"}]}},
                       {"test": "datum.a === 'Aβ1-38'", "value": {"gradient": "linear", "x1": 0, "y1": 0, "x2": 1, "y2": 0, "stops": [{"offset": 0, "color": "#f4f4f4"}, {"offset": 0.125, "color": "#f4f4f4"}, {"offset": 0.125, "color": "#a8a8a8"}, {"offset": 0.25, "color": "#a8a8a8"}, {"offset": 0.25, "color": "#f4f4f4"}, {"offset": 0.375, "color": "#f4f4f4"}, {"offset": 0.375, "color": "#a8a8a8"}, {"offset": 0.5, "color": "#a8a8a8"}, {"offset": 0.5, "color": "#f4f4f4"}, {"offset": 0.625, "color": "#f4f4f4"}, {"offset": 0.625, "color": "#a8a8a8"}, {"offset": 0.75, "color": "#a8a8a8"}, {"offset": 0.75, "color": "#f4f4f4"}, {"offset": 0.875, "color": "#f4f4f4"}, {"offset": 0.875, "color": "#a8a8a8"}, {"offset": 1, "color": "#a8a8a8"}]}},
                       {"test": "datum.a === 'Aβ1-39'", "value": {"gradient": "linear", "x1": 0, "y1": 0, "x2": 1, "y2": 0, "stops": [{"offset": 0, "color": "#000"}, {"offset": 0.25, "color": "#000"}, {"offset": 0.25, "color": "#fff"}, {"offset": 0.5, "color": "#fff"}, {"offset": 0.5, "color": "#000"}, {"offset": 0.75, "color": "#000"}, {"offset": 0.75, "color": "#fff"}, {"offset": 1, "color": "#fff"}]}}
                     ],
                     "field": "a", "type": "nominal",
                     "scale": {"domain": ["Aβ1-36", "Aβ1-37", "Aβ1-38", "Aβ1-39", "Aβ1-40", "Aβ1-42"], "range": ["#858585", "#ffffff", "#d8d8d8", "#6a6a6a", "#000000", "#777777"]},
                     "legend": {
                       "orient": "none", "legendX": 150, "legendY": -4, "columns": 2, "title": null,
                       "symbolType": "M-1.5,-1H1.5V1H-1.5Z", "symbolSize": 90, "symbolStrokeColor": "black", "symbolStrokeWidth": 1, "symbolOpacity": 1,
                       "labelFontSize": 12, "labelColor": "#222", "columnPadding": 14, "rowPadding": 3
                     }
                   }
                 }},
                {"mark": {"type": "errorbar", "ticks": {"size": 4, "thickness": 1, "color": "black"}, "rule": {"strokeWidth": 1, "color": "black"}},
                 "encoding": {"y2": {"field": "hi"}}},
                {"transform": [{"aggregate": [{"op": "count", "as": "n"}]}], "mark": {"type": "text", "fontSize": 10.5, "fontWeight": "bold", "color": "black"},
                 "encoding": {"x": {"datum": "DMSO"}, "xOffset": {"value": 0}, "y": {"datum": 90}, "text": {"value": "BRI2-Aβ1-49"}}}
              ]
            },
            {
              "width": 310, "height": 155,
              "view": {"stroke": null},
              "transform": [{"filter": "datum.p == '51'"}],
              "encoding": {
                "x": {"field": "t", "type": "nominal", "sort": ["DMSO", "GSM1", "Compound 2", "Fenofibrate", "(Z-LL)₂ Ketone"], "scale": {"paddingInner": 0.14, "paddingOuter": 0.07}, "axis": {"labels": false, "title": null, "tickSize": 5, "tickWidth": 1.5, "domainWidth": 2}},
                "xOffset": {"field": "a", "type": "nominal", "scale": {"domain": ["Aβ1-36", "Aβ1-37", "Aβ1-38", "Aβ1-39", "Aβ1-40", "Aβ1-42"], "paddingInner": 0.1}},
                "y": {"field": "v", "type": "quantitative", "scale": {"domain": [0, 100]}, "axis": {"values": [0, 20, 40, 60, 80, 100], "labelFontSize": 10.5, "labelFontWeight": "bold", "labelPadding": 1, "tickSize": 4, "tickWidth": 1.5, "domainWidth": 2, "title": "% Total Peak Heght", "titleFontSize": 12, "titleFontWeight": "bold", "titlePadding": 2}}
              },
              "layer": [
                {"mark": {"type": "bar", "stroke": "black", "strokeWidth": 1},
                 "encoding": {
                   "color": {
                     "condition": [
                       {"test": "datum.a === 'Aβ1-36'", "value": {"gradient": "linear", "x1": 0, "y1": 0, "x2": 1, "y2": 0, "stops": [{"offset": 0, "color": "#444"}, {"offset": 0.125, "color": "#444"}, {"offset": 0.125, "color": "#bbb"}, {"offset": 0.25, "color": "#bbb"}, {"offset": 0.25, "color": "#444"}, {"offset": 0.375, "color": "#444"}, {"offset": 0.375, "color": "#bbb"}, {"offset": 0.5, "color": "#bbb"}, {"offset": 0.5, "color": "#444"}, {"offset": 0.625, "color": "#444"}, {"offset": 0.625, "color": "#bbb"}, {"offset": 0.75, "color": "#bbb"}, {"offset": 0.75, "color": "#444"}, {"offset": 0.875, "color": "#444"}, {"offset": 0.875, "color": "#bbb"}, {"offset": 1, "color": "#bbb"}]}},
                       {"test": "datum.a === 'Aβ1-38'", "value": {"gradient": "linear", "x1": 0, "y1": 0, "x2": 1, "y2": 0, "stops": [{"offset": 0, "color": "#f4f4f4"}, {"offset": 0.125, "color": "#f4f4f4"}, {"offset": 0.125, "color": "#a8a8a8"}, {"offset": 0.25, "color": "#a8a8a8"}, {"offset": 0.25, "color": "#f4f4f4"}, {"offset": 0.375, "color": "#f4f4f4"}, {"offset": 0.375, "color": "#a8a8a8"}, {"offset": 0.5, "color": "#a8a8a8"}, {"offset": 0.5, "color": "#f4f4f4"}, {"offset": 0.625, "color": "#f4f4f4"}, {"offset": 0.625, "color": "#a8a8a8"}, {"offset": 0.75, "color": "#a8a8a8"}, {"offset": 0.75, "color": "#f4f4f4"}, {"offset": 0.875, "color": "#f4f4f4"}, {"offset": 0.875, "color": "#a8a8a8"}, {"offset": 1, "color": "#a8a8a8"}]}},
                       {"test": "datum.a === 'Aβ1-39'", "value": {"gradient": "linear", "x1": 0, "y1": 0, "x2": 1, "y2": 0, "stops": [{"offset": 0, "color": "#000"}, {"offset": 0.25, "color": "#000"}, {"offset": 0.25, "color": "#fff"}, {"offset": 0.5, "color": "#fff"}, {"offset": 0.5, "color": "#000"}, {"offset": 0.75, "color": "#000"}, {"offset": 0.75, "color": "#fff"}, {"offset": 1, "color": "#fff"}]}}
                     ],
                     "field": "a", "type": "nominal",
                     "scale": {"domain": ["Aβ1-36", "Aβ1-37", "Aβ1-38", "Aβ1-39", "Aβ1-40", "Aβ1-42"], "range": ["#858585", "#ffffff", "#d8d8d8", "#6a6a6a", "#000000", "#777777"]},
                     "legend": null
                   }
                 }},
                {"mark": {"type": "errorbar", "ticks": {"size": 4, "thickness": 1, "color": "black"}, "rule": {"strokeWidth": 1, "color": "black"}},
                 "encoding": {"y2": {"field": "hi"}}},
                {"transform": [{"aggregate": [{"op": "count", "as": "n"}]}], "mark": {"type": "text", "fontSize": 10.5, "fontWeight": "bold", "color": "black"},
                 "encoding": {"x": {"datum": "DMSO"}, "xOffset": {"value": 0}, "y": {"datum": 90}, "text": {"value": "BRI2-Aβ1-51"}}}
              ]
            },
            {
              "width": 310, "height": 155,
              "view": {"stroke": null},
              "transform": [{"filter": "datum.p == '55'"}],
              "encoding": {
                "x": {"field": "t", "type": "nominal", "sort": ["DMSO", "GSM1", "Compound 2", "Fenofibrate", "(Z-LL)₂ Ketone"], "scale": {"paddingInner": 0.14, "paddingOuter": 0.07}, "axis": {"title": null, "tickSize": 5, "tickWidth": 1.5, "domainWidth": 2, "labelAngle": -45, "labelFontSize": 11, "labelFontWeight": "bold", "labelAlign": "right", "labelBaseline": "top", "labelPadding": 2}},
                "xOffset": {"field": "a", "type": "nominal", "scale": {"domain": ["Aβ1-36", "Aβ1-37", "Aβ1-38", "Aβ1-39", "Aβ1-40", "Aβ1-42"], "paddingInner": 0.1}},
                "y": {"field": "v", "type": "quantitative", "scale": {"domain": [0, 100]}, "axis": {"values": [0, 20, 40, 60, 80, 100], "labelFontSize": 10.5, "labelFontWeight": "bold", "labelPadding": 1, "tickSize": 4, "tickWidth": 1.5, "domainWidth": 2, "title": "% Total Peak Heght", "titleFontSize": 12, "titleFontWeight": "bold", "titlePadding": 2}}
              },
              "layer": [
                {"mark": {"type": "bar", "stroke": "black", "strokeWidth": 1},
                 "encoding": {
                   "color": {
                     "condition": [
                       {"test": "datum.a === 'Aβ1-36'", "value": {"gradient": "linear", "x1": 0, "y1": 0, "x2": 1, "y2": 0, "stops": [{"offset": 0, "color": "#444"}, {"offset": 0.125, "color": "#444"}, {"offset": 0.125, "color": "#bbb"}, {"offset": 0.25, "color": "#bbb"}, {"offset": 0.25, "color": "#444"}, {"offset": 0.375, "color": "#444"}, {"offset": 0.375, "color": "#bbb"}, {"offset": 0.5, "color": "#bbb"}, {"offset": 0.5, "color": "#444"}, {"offset": 0.625, "color": "#444"}, {"offset": 0.625, "color": "#bbb"}, {"offset": 0.75, "color": "#bbb"}, {"offset": 0.75, "color": "#444"}, {"offset": 0.875, "color": "#444"}, {"offset": 0.875, "color": "#bbb"}, {"offset": 1, "color": "#bbb"}]}},
                       {"test": "datum.a === 'Aβ1-38'", "value": {"gradient": "linear", "x1": 0, "y1": 0, "x2": 1, "y2": 0, "stops": [{"offset": 0, "color": "#f4f4f4"}, {"offset": 0.125, "color": "#f4f4f4"}, {"offset": 0.125, "color": "#a8a8a8"}, {"offset": 0.25, "color": "#a8a8a8"}, {"offset": 0.25, "color": "#f4f4f4"}, {"offset": 0.375, "color": "#f4f4f4"}, {"offset": 0.375, "color": "#a8a8a8"}, {"offset": 0.5, "color": "#a8a8a8"}, {"offset": 0.5, "color": "#f4f4f4"}, {"offset": 0.625, "color": "#f4f4f4"}, {"offset": 0.625, "color": "#a8a8a8"}, {"offset": 0.75, "color": "#a8a8a8"}, {"offset": 0.75, "color": "#f4f4f4"}, {"offset": 0.875, "color": "#f4f4f4"}, {"offset": 0.875, "color": "#a8a8a8"}, {"offset": 1, "color": "#a8a8a8"}]}},
                       {"test": "datum.a === 'Aβ1-39'", "value": {"gradient": "linear", "x1": 0, "y1": 0, "x2": 1, "y2": 0, "stops": [{"offset": 0, "color": "#000"}, {"offset": 0.25, "color": "#000"}, {"offset": 0.25, "color": "#fff"}, {"offset": 0.5, "color": "#fff"}, {"offset": 0.5, "color": "#000"}, {"offset": 0.75, "color": "#000"}, {"offset": 0.75, "color": "#fff"}, {"offset": 1, "color": "#fff"}]}}
                     ],
                     "field": "a", "type": "nominal",
                     "scale": {"domain": ["Aβ1-36", "Aβ1-37", "Aβ1-38", "Aβ1-39", "Aβ1-40", "Aβ1-42"], "range": ["#858585", "#ffffff", "#d8d8d8", "#6a6a6a", "#000000", "#777777"]},
                     "legend": null
                   }
                 }},
                {"mark": {"type": "errorbar", "ticks": {"size": 4, "thickness": 1, "color": "black"}, "rule": {"strokeWidth": 1, "color": "black"}},
                 "encoding": {"y2": {"field": "hi"}}},
                {"transform": [{"aggregate": [{"op": "count", "as": "n"}]}], "mark": {"type": "text", "fontSize": 10.5, "fontWeight": "bold", "color": "black"},
                 "encoding": {"x": {"datum": "DMSO"}, "xOffset": {"value": 0}, "y": {"datum": 90}, "text": {"value": "BRI2-Aβ1-55"}}}
              ]
            }
          ]
        }
      ]
    }
  ]
}
